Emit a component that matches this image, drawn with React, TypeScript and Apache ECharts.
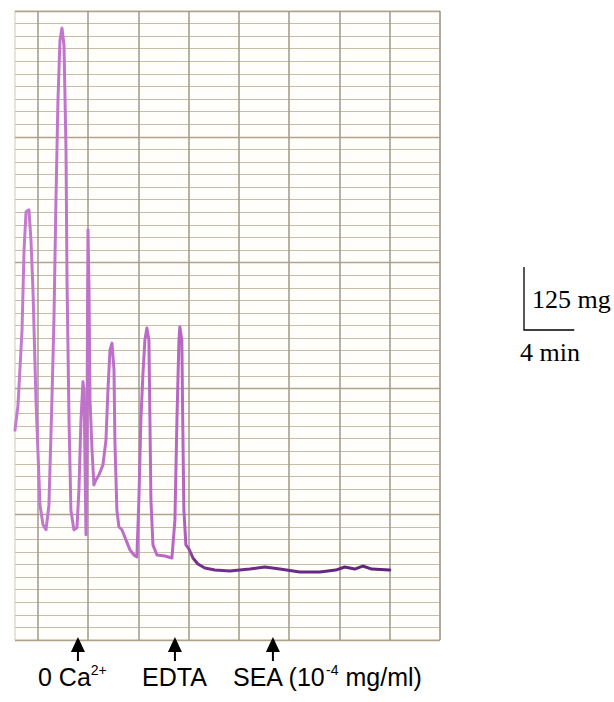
import React, { useEffect, useRef } from "react";
import * as echarts from "echarts";

// Trace: time (min) and tension (mg)
const traceMinutes = [
  -1.83, -1.59, -1.27, -1.11, -0.95, -0.72, -0.56, -0.4, -0.16, 0.16,
  0.4, 0.64, 0.87, 1.11, 1.27, 1.43, 1.59, 1.75, 1.91, 2.07,
  2.23, 2.31, 2.47, 2.62, 2.86, 3.1, 3.26, 3.42, 3.58, 3.66,
  3.74, 3.82, 3.9, 3.94, 3.98, 4.06, 4.14, 4.3, 4.45, 4.61,
  4.85, 5.17, 5.41, 5.57, 5.73, 5.89, 6.05, 6.12, 6.28, 6.44,
  6.68, 7.0, 7.32, 7.64, 7.87, 8.03, 8.19, 8.35, 8.51, 8.67,
  8.83, 8.91, 8.99, 9.15, 9.47, 10.1, 10.66, 10.9, 11.06, 11.22,
  11.29, 11.45, 11.53, 11.61, 11.77, 12.01, 12.33, 12.73, 13.28, 14.08,
  15.27, 16.86, 18.06, 19.25, 20.84, 22.43, 23.7, 24.42, 25.21, 25.85,
  26.57, 28.0,
];
const traceMg = [
  417, 467, 616, 775, 851, 855, 795, 696, 477, 268,
  229, 219, 268, 477, 636, 874, 1073, 1192, 1216, 1182,
  974, 715, 437, 258, 219, 223, 298, 437, 513, 497,
  358, 209, 378, 636, 815, 696, 477, 378, 308, 318,
  328, 348, 397, 497, 576, 590, 537, 397, 258, 225,
  219, 199, 179, 169, 165, 278, 437, 527, 596, 620,
  596, 437, 278, 189, 169, 167, 163, 238, 437, 596,
  622, 596, 417, 258, 189, 181, 163, 151, 143, 139,
  137, 141, 145, 141, 135, 135, 139, 145, 141, 147,
  141, 139,
];

// Paper grid
const verticalGridMinutes = [0, 4, 8, 12, 16, 20, 24, 28, 32];
const paperMinMinutes = -1.83;
const paperMaxMinutes = 32;
const paperMaxMg = 1250;
const minorStepMg = 25;
const majorStepMg = 250;

// Events (arrows) below the trace
const eventMinutes = [3.18, 10.9, 18.7];
const eventTexts = ["{t|0 Ca}{s|2+}", "{t|EDTA}", "{t|SEA (10}{s|-4}{t| mg/ml)}"];
const eventTextLeft = [38, 142, 233];

// Scale bar
const scaleBarMg = 125;
const scaleBarMinutes = 4;
const scaleBarLabelMg = "125 mg";
const scaleBarLabelMin = "4 min";

export default function App() {
  const ref = useRef<HTMLDivElement>(null);

  useEffect(() => {
    document.body.style.margin = "0";
    if (!ref.current) return;
    const chart = echarts.init(ref.current, null, { renderer: "svg" });

    const traceData = traceMinutes.map((t, i) => [t, traceMg[i]]);

    chart.setOption({
      animation: false,
      backgroundColor: "#ffffff",
      grid: {
        left: 15,
        right: 174,
        top: 11,
        bottom: 62,
        show: true,
        backgroundColor: "#fffefa",
        borderColor: "#d3c8b5",
        borderWidth: 1,
      },
      xAxis: {
        type: "value",
        min: paperMinMinutes,
        max: paperMaxMinutes,
        axisLine: { show: false },
        axisTick: { show: false },
        axisLabel: { show: false },
        splitLine: { show: false },
      },
      yAxis: [
        {
          type: "value",
          min: 0,
          max: paperMaxMg,
          interval: minorStepMg,
          axisLine: { show: false },
          axisTick: { show: false },
          axisLabel: { show: false },
          splitLine: { show: true, lineStyle: { color: "#c8bca8", width: 1 } },
        },
        {
          type: "value",
          min: 0,
          max: paperMaxMg,
          interval: majorStepMg,
          axisLine: { show: false },
          axisTick: { show: false },
          axisLabel: { show: false },
          splitLine: { show: true, lineStyle: { color: "#b0a28b", width: 1.4 } },
        },
      ],
      series: [
        {
          type: "line",
          data: [],
          z: 1,
          silent: true,
          markLine: {
            silent: true,
            symbol: ["none", "none"],
            label: { show: false },
            lineStyle: { color: "#a0988a", width: 1.5, type: "solid" },
            data: verticalGridMinutes.map((m) => ({ xAxis: m })),
          },
        },
        {
          type: "line",
          data: traceData,
          z: 5,
          showSymbol: false,
          silent: true,
          lineStyle: {
            width: 3,
            cap: "round",
            join: "round",
            color: new echarts.graphic.LinearGradient(0, 0, 1, 0, [
              { offset: 0, color: "#c47ccf" },
              { offset: 0.45, color: "#b865c4" },
              { offset: 0.48, color: "#73318a" },
              { offset: 1, color: "#5f2378" },
            ]),
          },
        },
      ],
    });

    const px = (t: number) => chart.convertToPixel({ xAxisIndex: 0 }, t) as number;
    const py = (v: number) => chart.convertToPixel({ yAxisIndex: 0 }, v) as number;

    const barH = py(0) - py(scaleBarMg);
    const barW = px(scaleBarMinutes) - px(0);
    const barX = 524;
    const barY = 330;

    const graphic: any[] = [];
    eventMinutes.forEach((t, i) => {
      const x = px(t);
      graphic.push({
        type: "line",
        shape: { x1: x, y1: 661, x2: x, y2: 650 },
        style: { stroke: "#000", lineWidth: 2 },
      });
      graphic.push({
        type: "polygon",
        shape: { points: [[x, 637], [x - 7, 652], [x + 7, 652]] },
        style: { fill: "#000" },
      });
      graphic.push({
        type: "text",
        x: eventTextLeft[i],
        y: 677,
        style: {
          text: eventTexts[i],
          textAlign: "left",
          textVerticalAlign: "middle",
          rich: {
            t: { fontSize: 25, fontFamily: "Liberation Sans", fill: "#000", lineHeight: 28 },
            s: { fontSize: 14, fontFamily: "Liberation Sans", fill: "#000", verticalAlign: "top", lineHeight: 16 },
          },
        },
      });
    });

    graphic.push({
      type: "polyline",
      shape: { points: [[barX, barY - barH], [barX, barY], [barX + barW, barY]] },
      style: { stroke: "#000", lineWidth: 1.3, fill: "none" },
    });
    graphic.push({
      type: "text",
      x: barX + 8,
      y: barY - 31,
      style: {
        text: scaleBarLabelMg,
        font: '26px "Liberation Serif"',
        fill: "#000",
        textAlign: "left",
        textVerticalAlign: "middle",
      },
    });
    graphic.push({
      type: "text",
      x: barX - 4,
      y: barY + 22,
      style: {
        text: scaleBarLabelMin,
        font: '26px "Liberation Serif"',
        fill: "#000",
        textAlign: "left",
        textVerticalAlign: "middle",
      },
    });

    chart.setOption({ graphic });

    return () => chart.dispose();
  }, []);

  return <div ref={ref} style={{ width: 614, height: 702 }} />;
}
